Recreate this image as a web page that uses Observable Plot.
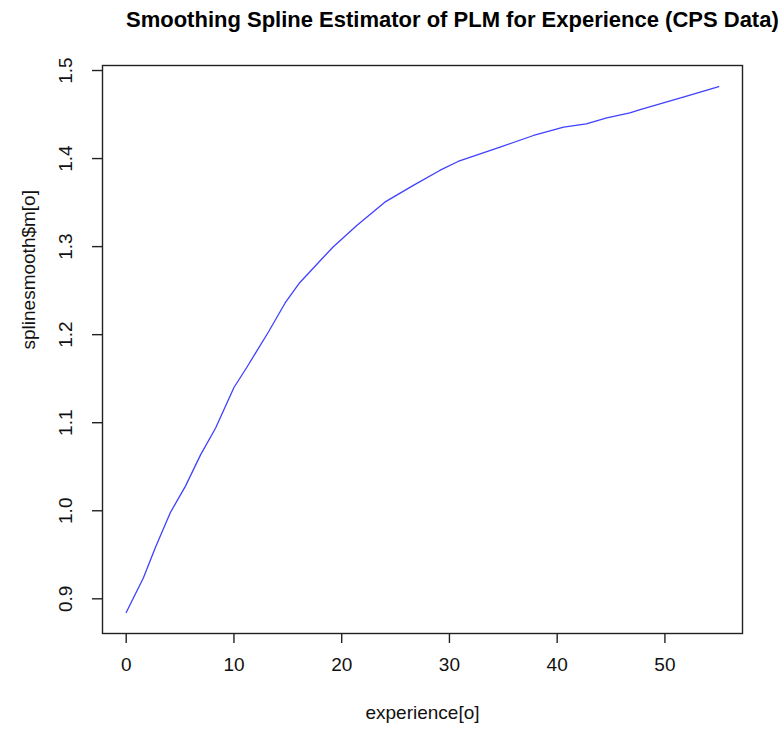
<!DOCTYPE html>
<html>
<head>
<meta charset="utf-8">
<script src="https://cdn.jsdelivr.net/npm/d3@7"></script>
<script src="https://cdn.jsdelivr.net/npm/@observablehq/plot@0.6"></script>
<style>
  body { margin: 0; background: #fff; font-family: "Liberation Sans", Arial, sans-serif; }
  #wrap { position: relative; width: 779px; height: 733px; }
  #title { position: absolute; left: 126px; top: 7px; height: 43px; font-weight: bold; font-size: 22px; color: #000; white-space: nowrap; }
  #chart { position: absolute; left: 0; top: 50px; }
</style>
</head>
<body>
<div id="wrap">
  <div id="title">Smoothing Spline Estimator of PLM for Experience (CPS Data)</div>
  <div id="chart"></div>
</div>
<script>
const experience = [0, 1.6, 2.7, 4.1, 5.5, 6.9, 8.3, 10.0, 11.2, 12.0, 13.2, 14.75, 16.1, 18.0, 19.2, 21.4, 24.0, 26.65, 29.1, 30.8, 34.7, 37.8, 40.6, 42.7, 44.6, 46.75, 47.7, 51.7, 55];
const mhat = [0.8845, 0.924, 0.958, 0.998, 1.028, 1.0635, 1.094, 1.140, 1.163, 1.179, 1.203, 1.236, 1.259, 1.284, 1.2995, 1.324, 1.3505, 1.3695, 1.3865, 1.3967, 1.413, 1.4262, 1.4357, 1.4395, 1.4463, 1.452, 1.4557, 1.4697, 1.4818];
const xTicks = [0, 10, 20, 30, 40, 50];
const yTicks = [0.9, 1.0, 1.1, 1.2, 1.3, 1.4, 1.5];
const xLabel = "experience[o]";
const yLabel = "splinesmooth$m[o]";

const data = experience.map((x, i) => ({x, y: mhat[i]}));

const plot = Plot.plot({
  width: 779,
  height: 683,
  marginTop: 15,
  marginBottom: 100,
  marginLeft: 102,
  marginRight: 37,
  style: {fontFamily: "Liberation Sans, Arial, sans-serif", fontSize: "19px", color: "#111", background: "#fff"},
  x: {domain: [-2.2, 57.2]},
  y: {domain: [0.8606, 1.5057]},
  marks: [
    Plot.frame({stroke: "#222", strokeWidth: 1.4}),
    Plot.axisX({ticks: xTicks, tickSize: 10, tickPadding: 14, tickFormat: d => d.toString(), label: null, stroke: "#222", strokeWidth: 1.4}),
    Plot.axisY({ticks: yTicks, tickSize: 10, tickPadding: 21, tickRotate: -90, tickFormat: d => d.toFixed(1), label: null, stroke: "#222", strokeWidth: 1.4}),
    Plot.line(data, {x: "x", y: "y", stroke: "#4040ff", strokeWidth: 1.3}),
    Plot.text([xLabel], {text: d => d, frameAnchor: "bottom", dy: 85, fontSize: 19, fill: "#111"}),
    Plot.text([yLabel], {text: d => d, frameAnchor: "left", dx: -74, rotate: -90, fontSize: 19, fill: "#111"})
  ]
});
document.getElementById("chart").appendChild(plot);
</script>
</body>
</html>
